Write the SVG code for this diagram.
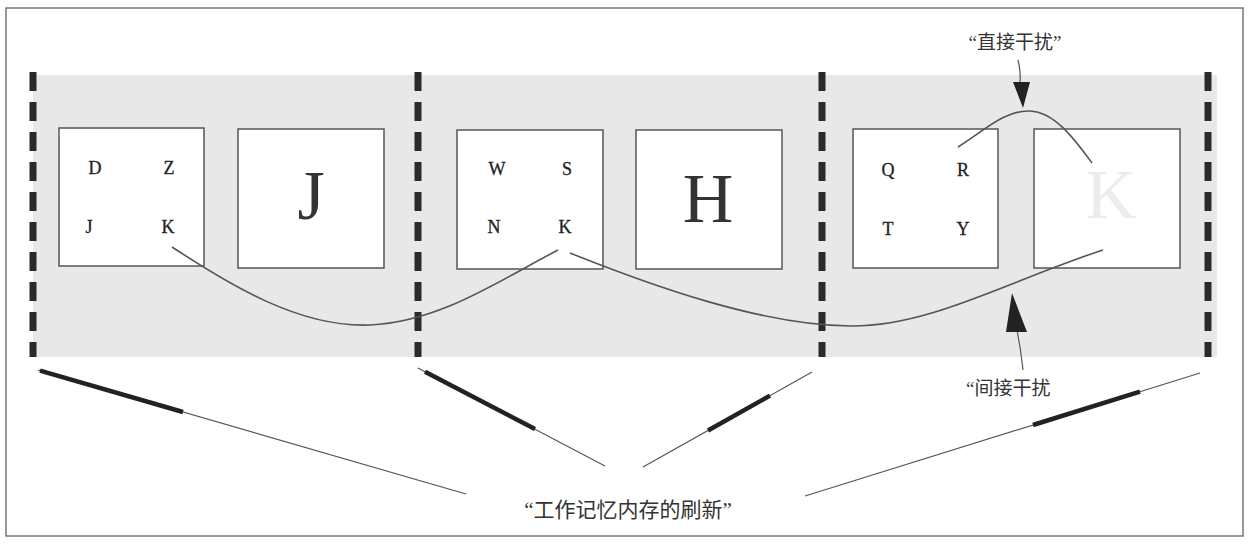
<svg xmlns="http://www.w3.org/2000/svg" width="1249" height="546" viewBox="0 0 1249 546">
<style>
.box{fill:#fff;stroke:#555;stroke-width:1.5}
.sm{font-family:"Liberation Serif",serif;font-size:18px;fill:#222;stroke:#222;stroke-width:0.3;text-anchor:middle}
.big{font-family:"Liberation Serif",serif;font-size:70px;fill:#333;text-anchor:middle}
.cn{font-family:"Liberation Serif","Noto Sans CJK SC",sans-serif;fill:#333}
.dash{stroke:#2a2a2a;stroke-width:7;stroke-dasharray:19 11;fill:none}
.curve{fill:none;stroke:#555;stroke-width:1.6}
.thin{stroke:#555;stroke-width:1.2;fill:none}
.thick{stroke:#222;stroke-width:4.5;fill:none}
</style>
<rect x="6" y="8" width="1237" height="528" fill="#fff" stroke="#777" stroke-width="1.5"/>
<rect id="band" x="33" y="75" width="1184" height="282" fill="#e8e8e8"/>
<g id="separators">
<line class="dash" x1="33" y1="72" x2="33" y2="357"/>
<line class="dash" x1="418" y1="72" x2="418" y2="357"/>
<line class="dash" x1="822" y1="72" x2="822" y2="357"/>
<line class="dash" x1="1208" y1="72" x2="1208" y2="357"/>
</g>
<g id="box1"><rect class="box" x="59" y="128" width="145" height="138"/>
<text class="sm" x="95" y="174">D</text><text class="sm" x="169" y="174">Z</text>
<text class="sm" x="89" y="233">J</text><text class="sm" x="168" y="233">K</text></g>
<g id="box2"><rect class="box" x="238" y="129" width="146" height="139"/>
<text class="big" x="311" y="219">J</text></g>
<g id="box3"><rect class="box" x="457" y="130" width="146" height="139"/>
<text class="sm" x="497" y="175">W</text><text class="sm" x="567" y="175">S</text>
<text class="sm" x="494" y="233">N</text><text class="sm" x="565" y="233">K</text></g>
<g id="box4"><rect class="box" x="636" y="130" width="146" height="139"/>
<text class="big" x="708" y="222">H</text></g>
<g id="box5"><rect class="box" x="853" y="129" width="145" height="139"/>
<text class="sm" x="888" y="176">Q</text><text class="sm" x="963" y="176">R</text>
<text class="sm" x="888" y="235">T</text><text class="sm" x="963" y="235">Y</text></g>
<g id="box6"><rect class="box" x="1034" y="129" width="146" height="139"/>
<text class="big" x="1111" y="218" style="fill:#ececec">K</text></g>
<g id="connectors">
<path class="curve" d="M172,247 C230,285 300,328 370,325 C440,322 500,280 558,250"/>
<path class="curve" d="M570,253 C650,285 760,325 850,326 C930,327 1010,280 1103,250"/>
<path class="curve" d="M958,147 C985,130 1005,110 1030,111 C1055,112 1075,140 1092,163"/>
<path class="thin" d="M1018,60 Q1021,72 1020,84"/>
<polygon points="1013,82 1030,82 1023,108" fill="#222"/>
<path class="thin" d="M1017,330 Q1021,350 1023,370"/>
<polygon points="1012,293 1006,332 1027,332" fill="#222"/>
<line class="thin" x1="38" y1="370" x2="466" y2="494"/>
<line class="thick" x1="40" y1="370.6" x2="183" y2="412"/>
<line class="thin" x1="418" y1="368" x2="605" y2="466"/>
<line class="thick" x1="425" y1="371.7" x2="535" y2="429"/>
<line class="thin" x1="812" y1="372" x2="643" y2="467"/>
<line class="thick" x1="770" y1="395.6" x2="708" y2="430.5"/>
<line class="thin" x1="1200" y1="373" x2="805" y2="496"/>
<line class="thick" x1="1140" y1="391.7" x2="1033" y2="425"/>
</g>
<g id="labels">
<text class="cn" x="1015" y="49" font-size="19" text-anchor="middle">“直接干扰”</text>
<text class="cn" x="966" y="395" font-size="19">“间接干扰</text>
<text class="cn" x="628" y="517" font-size="21" text-anchor="middle">“工作记忆内存的刷新”</text>
</g>
</svg>
